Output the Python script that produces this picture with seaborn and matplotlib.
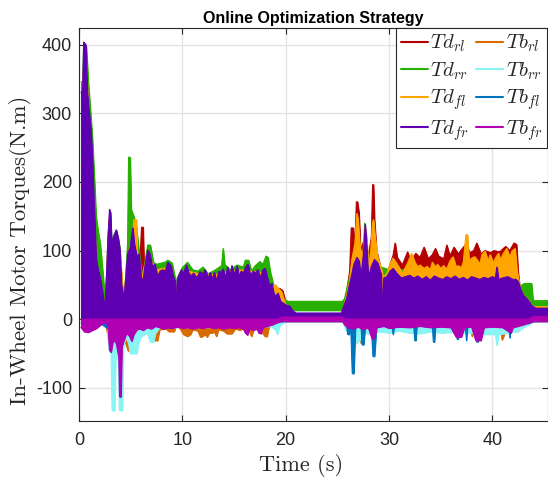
import numpy as np
import pandas as pd
import matplotlib
matplotlib.use("Agg")
import matplotlib.pyplot as plt
from matplotlib.lines import Line2D
import seaborn as sns

# ---------------- data (time [s], envelope values [N.m]) ----------------
# drive torques: (t, upper) ; lower = 0 unless a third value is given
Td_rl = [(0.3, 300), (0.45, 370), (0.7, 360), (1.0, 270), (1.4, 150), (1.7, 70), (2.3, 28), (2.5, 10),
         (2.9, 135), (3.1, 90), (3.6, 110), (4.0, 85), (4.3, 25), (4.8, 95), (5.2, 110), (5.6, 80),
         (5.95, 100), (6.05, 134), (6.2, 134), (6.3, 70), (6.8, 85), (7.4, 70), (7.5, 76), (7.65, 76),
         (7.8, 62), (8.5, 70), (9.3, 45), (9.4, 5), (9.5, 50), (10.5, 65), (12.0, 60), (13.5, 60),
         (15.0, 65), (16.5, 65), (17.5, 60), (18.0, 60), (18.5, 45), (19.2, 40), (19.4, 45), (19.7, 42),
         (20.0, 25), (20.5, 12), (21.0, 7), (25.4, 7), (25.6, 15), (25.9, 40), (26.2, 70), (26.35, 133),
         (26.55, 133), (26.7, 100), (26.85, 171), (26.95, 171), (27.1, 155), (27.25, 100), (27.7, 120),
         (28.0, 90), (28.3, 120), (28.42, 196), (28.5, 196), (28.6, 145), (28.8, 100), (29.2, 75),
         (29.5, 62), (30.0, 75), (30.4, 93), (30.6, 111), (30.8, 90), (31.3, 79), (31.8, 98), (32.1, 85),
         (32.6, 96), (33.0, 90), (33.4, 105), (33.8, 88), (34.2, 94), (34.5, 103), (34.8, 92), (35.3, 88),
         (35.6, 108), (35.9, 92), (36.3, 105), (36.7, 95), (37.1, 103), (37.5, 110), (37.8, 97),
         (38.2, 100), (38.5, 111), (38.9, 95), (39.3, 100), (39.8, 97), (40.2, 100), (40.7, 98),
         (41.3, 106), (41.7, 100), (42.1, 111), (42.35, 109), (42.5, 70), (42.65, 48), (42.9, 40),
         (43.3, 30), (43.8, 18), (45.4, 15)]

Td_rr = [(0.2, 346, 0), (0.35, 346, 0), (0.45, 400, 0), (0.7, 398, 0), (0.9, 345, 0), (1.1, 305, 0),
         (1.3, 262, 0), (1.5, 200, 0), (1.65, 150, 0), (1.85, 128, 0), (2.05, 110, 0), (2.2, 86, 0),
         (2.4, 50, 0), (2.6, 32, 0), (2.8, 120, 0), (3.0, 158, 0), (3.15, 115, 0), (3.6, 130, 0),
         (3.95, 105, 0), (4.1, 55, 0), (4.35, 35, 0), (4.5, 60, 0), (4.7, 110, 0), (4.8, 236, 0),
         (4.95, 236, 0), (5.05, 160, 0), (5.3, 150, 0), (5.5, 140, 0), (5.8, 100, 0), (6.1, 62, 0),
         (6.4, 85, 0), (6.65, 108, 0), (6.9, 108, 0), (7.2, 83, 0), (7.5, 80, 0), (8.3, 83, 0),
         (8.6, 86, 0), (9.0, 82, 0), (9.3, 60, 0), (9.4, 10, 0), (9.5, 60, 0), (10.0, 75, 0),
         (10.5, 83, 0), (11.0, 72, 0), (11.5, 70, 0), (12.0, 76, 0), (12.5, 66, 0), (13.2, 72, 0),
         (13.8, 78, 0), (13.95, 103, 0), (14.1, 80, 0), (14.6, 72, 0), (15.3, 79, 0), (15.9, 76, 0),
         (16.1, 86, 0), (16.4, 86, 0), (16.7, 70, 0), (17.0, 77, 0), (17.5, 84, 0), (17.8, 80, 0),
         (18.1, 92, 0), (18.3, 90, 0), (18.5, 70, 0), (18.9, 45, 0), (19.3, 42, 0), (19.8, 30, 0),
         (20.2, 26, 13), (25.5, 26, 13), (25.7, 30, 0), (26.4, 75, 0), (27.0, 90, 0), (27.5, 95, 0),
         (27.65, 140, 0), (27.85, 100, 0), (28.5, 80, 0), (30.0, 72, 0), (35.0, 72, 0), (40.0, 72, 0),
         (42.4, 62, 0), (42.7, 48, 0), (43.1, 52, 0), (43.8, 52, 0), (43.95, 27, 20), (45.4, 27, 20)]

Td_fl = [(0.3, 310), (0.45, 375), (0.7, 370), (1.0, 280), (1.4, 160), (1.7, 75), (2.3, 30), (2.5, 12),
         (2.9, 145), (3.1, 95), (3.6, 115), (4.0, 90), (4.3, 28), (4.8, 100), (5.2, 120), (5.3, 145),
         (5.55, 145), (5.65, 90), (6.0, 55), (6.6, 95), (7.5, 72), (8.5, 75), (9.3, 50), (9.4, 5),
         (9.5, 52), (10.5, 70), (12.0, 65), (13.5, 65), (14.5, 70), (16.0, 72), (17.5, 68), (18.0, 66),
         (18.5, 45), (19.0, 50), (19.3, 45), (19.6, 40), (20.0, 20), (20.5, 15), (21.0, 8), (25.4, 8),
         (25.6, 16), (25.9, 35), (26.2, 57), (26.4, 86), (26.7, 110), (26.9, 154), (27.0, 145),
         (27.2, 105), (27.45, 90), (27.7, 134), (27.85, 120), (28.0, 82), (28.2, 90), (28.4, 140),
         (28.5, 145), (28.65, 120), (28.9, 91), (29.3, 72), (29.45, 60), (29.8, 67), (30.1, 80),
         (30.4, 89), (30.8, 80), (31.3, 67), (31.75, 80), (32.2, 96), (32.5, 83), (32.8, 76), (33.0, 79),
         (33.4, 74), (33.7, 77), (34.0, 72), (34.2, 83), (34.5, 76), (34.7, 80), (35.0, 74), (35.3, 78),
         (35.6, 73), (35.9, 85), (36.2, 91), (36.5, 76), (36.7, 78), (37.0, 75), (37.2, 83), (37.45, 123),
         (37.6, 123), (37.75, 85), (38.0, 89), (38.3, 91), (38.6, 85), (38.8, 80), (39.0, 94), (39.3, 99),
         (39.6, 85), (39.8, 94), (40.1, 82), (40.3, 89), (40.6, 96), (40.8, 86), (41.0, 94), (41.4, 103),
         (41.7, 90), (41.9, 99), (42.2, 103), (42.4, 70), (42.7, 45), (43.0, 35), (43.5, 28), (44.0, 18),
         (45.4, 18)]

Td_fr = [(0.2, 330), (0.35, 335), (0.45, 404), (0.65, 400), (0.8, 330), (0.95, 305), (1.15, 275),
         (1.3, 230), (1.4, 185), (1.55, 130), (1.65, 90), (1.8, 75), (2.05, 60), (2.3, 36), (2.5, 15),
         (2.65, 60), (2.8, 118), (2.95, 160), (3.05, 155), (3.15, 110), (3.35, 120), (3.6, 130),
         (3.8, 118), (3.95, 100), (4.1, 50), (4.35, 30), (4.5, 55), (4.7, 95), (4.95, 105), (5.2, 133),
         (5.35, 110), (5.6, 91), (5.8, 95), (6.0, 60), (6.2, 57), (6.4, 80), (6.65, 101), (6.85, 95),
         (7.1, 76), (7.35, 80), (7.6, 62), (7.85, 70), (8.1, 72), (8.35, 70), (8.6, 83), (8.9, 78),
         (9.1, 62), (9.3, 55), (9.4, 10), (9.5, 57), (9.7, 65), (9.9, 72), (10.1, 66), (10.4, 79),
         (10.6, 68), (10.8, 63), (11.1, 67), (11.4, 60), (11.7, 69), (12.0, 66), (12.2, 72), (12.5, 60),
         (12.7, 68), (12.9, 58), (13.1, 68), (13.3, 55), (13.55, 70), (13.75, 68), (13.95, 73),
         (14.15, 60), (14.4, 76), (14.6, 62), (14.8, 78), (15.0, 65), (15.3, 77), (15.5, 62), (15.7, 70),
         (15.9, 67), (16.1, 75), (16.35, 80), (16.6, 63), (16.85, 70), (17.05, 67), (17.3, 72),
         (17.55, 60), (17.8, 72), (18.0, 74), (18.2, 62), (18.45, 48), (18.65, 52), (18.85, 38),
         (19.05, 33), (19.25, 38), (19.5, 26), (19.8, 23), (20.1, 20), (20.4, 19), (20.7, 12), (21.0, 9),
         (25.4, 9), (25.6, 18), (25.9, 30), (26.1, 45), (26.4, 65), (26.6, 80), (26.9, 90), (27.1, 85),
         (27.3, 62), (27.55, 98), (27.7, 138), (27.85, 103), (28.0, 60), (28.3, 77), (28.6, 87),
         (28.9, 82), (29.25, 65), (29.35, 8), (29.5, 60), (29.8, 62), (30.1, 70), (30.4, 74), (30.8, 66),
         (31.2, 60), (31.6, 62), (32.0, 64), (32.4, 60), (32.8, 63), (33.2, 58), (33.6, 62), (34.0, 57),
         (34.4, 63), (34.8, 60), (35.2, 58), (35.6, 62), (36.0, 59), (36.4, 63), (36.8, 58), (37.2, 61),
         (37.6, 57), (38.0, 62), (38.4, 60), (38.8, 58), (39.2, 61), (39.6, 59), (40.0, 62), (40.3, 60),
         (40.45, 76), (40.6, 58), (41.0, 60), (41.5, 62), (42.0, 58), (42.3, 58), (42.5, 55), (42.7, 45),
         (43.0, 35), (43.4, 29), (43.9, 19), (44.2, 16), (45.4, 16)]

# braking torques: (t, lower) ; upper = 0 unless a third value is given
Tb_rl = [(0.2, -12), (1.0, -15), (2.0, -8), (2.5, -4), (2.9, -30), (3.2, -20), (3.7, -25), (4.2, -20),
         (4.75, -46), (5.1, -46), (5.3, -20), (6.0, -15), (6.6, -15), (7.1, -18), (7.3, -31), (7.6, -31),
         (7.8, -15), (8.4, -14), (8.7, -18), (9.2, -18), (9.4, -10), (9.8, -14), (10.1, -22), (10.5, -25),
         (10.8, -22), (11.0, -15), (11.5, -17), (11.75, -26), (11.95, -25), (12.2, -22), (12.4, -26),
         (12.6, -20), (12.9, -20), (13.1, -18), (13.3, -25), (13.5, -15), (14.0, -17), (14.3, -21),
         (14.8, -21), (15.1, -14), (15.6, -16), (15.9, -13), (16.5, -18), (16.7, -25), (16.9, -15),
         (17.5, -15), (18.0, -25), (18.2, -25), (18.4, -10), (19.0, -6), (19.5, -3), (25.5, -3),
         (25.8, -8), (26.4, -10), (27.1, -12), (27.3, -35), (27.5, -35), (27.7, -10), (30.0, -10),
         (37.9, -10), (38.05, -25), (38.2, -10), (40.8, -10), (40.95, -30), (41.1, -25), (41.3, -10),
         (43.0, -8), (44.0, -3), (45.4, -3)]

Tb_rr = [(0.2, -8), (1.0, -12), (2.0, -6), (2.7, -5), (2.9, -45), (3.1, -50), (3.2, -133), (3.45, -133),
         (3.55, -55), (3.8, -60), (3.9, -133), (4.2, -133), (4.3, -40), (4.5, -25), (4.8, -35),
         (4.95, -50), (5.6, -50), (5.75, -35), (6.0, -25), (6.6, -20), (6.9, -33), (7.2, -33), (7.4, -20),
         (7.8, -12), (9.0, -12), (12.0, -12), (15.0, -10), (17.0, -12), (18.5, -10), (19.0, -15),
         (19.2, -22), (19.4, -10), (20.0, -3), (25.5, -3), (25.8, -15), (26.5, -25), (26.9, -35),
         (27.2, -30), (27.6, -20), (28.2, -22), (29.0, -18), (30.0, -20), (31.0, -17), (32.0, -20),
         (33.0, -21), (34.0, -18), (35.0, -20), (36.0, -19), (37.0, -21), (38.0, -20), (39.0, -22),
         (40.3, -22), (40.45, -38), (40.6, -22), (41.5, -20), (42.5, -18), (43.0, -12), (43.5, -8),
         (44.0, -3), (45.4, -3)]

Tb_fl = [(0.2, -5), (2.0, -5), (2.9, -15), (3.5, -20), (4.2, -15), (5.0, -20), (6.0, -10), (8.0, -10),
         (8.9, -13), (9.1, -11), (12.0, -10), (16.0, -10), (17.0, -9), (19.0, -6), (19.5, -3), (25.5, -3),
         (25.9, -8), (26.0, -22), (26.15, -22), (26.3, -10), (26.45, -79), (26.6, -79), (26.75, -12),
         (27.3, -10), (27.4, -37), (27.55, -37), (27.7, -10), (28.3, -10), (28.45, -54), (28.6, -54),
         (28.8, -10), (30.3, -10), (30.4, -22), (30.5, -10), (32.4, -8), (32.5, -31), (32.6, -31),
         (32.7, -8), (34.2, -8), (34.3, -33), (34.4, -33), (34.5, -8), (36.5, -8), (36.6, -29),
         (36.7, -29), (36.8, -8), (37.4, -8), (37.5, -31), (37.6, -8), (38.4, -8), (38.5, -33),
         (38.6, -33), (38.7, -8), (41.6, -8), (41.7, -27), (41.8, -8), (43.5, -6), (44.0, -3), (45.4, -3)]

Tb_fr = [(0.2, -12, 0), (0.5, -18, 0), (0.9, -19, 0), (1.3, -16, 0), (1.7, -13, 0), (2.1, -8, 0),
         (2.4, -5, 0), (2.6, -5, 0), (2.8, -10, 0), (2.95, -45, 0), (3.1, -48, 0), (3.3, -30, 0),
         (3.6, -35, 0), (3.85, -55, 0), (3.92, -113, 0), (4.05, -113, 0), (4.15, -40, 0), (4.3, -32, 0),
         (4.6, -20, 0), (4.9, -25, 0), (5.1, -32, 0), (5.3, -22, 0), (5.6, -15, 0), (5.9, -14, 0),
         (6.2, -16, 0), (6.6, -12, 0), (7.0, -14, 0), (7.4, -10, 0), (7.8, -12, 0), (8.2, -14, 0),
         (8.6, -12, 0), (9.0, -13, 0), (9.5, -11, 0), (10.0, -13, 0), (10.5, -12, 0), (11.0, -14, 0),
         (11.5, -12, 0), (12.0, -13, 0), (12.5, -11, 0), (13.0, -13, 0), (13.5, -12, 0), (14.0, -14, 0),
         (14.5, -12, 0), (15.0, -13, 0), (15.5, -12, 0), (15.9, -14, 0), (16.1, -20, 0), (16.3, -23, 0),
         (16.5, -14, 0), (16.9, -16, 0), (17.2, -13, 0), (17.4, -20, 0), (17.6, -21, 0), (17.8, -12, 0),
         (18.2, -10, 0), (18.7, -8, 0), (19.2, -4, 0), (19.7, -3, 3), (25.5, -3, 3), (25.7, -8, 0),
         (26.0, -12, 0), (26.5, -14, 0), (27.0, -11, 0), (27.5, -15, 0), (28.0, -12, 0), (28.35, -28, 0),
         (28.6, -28, 0), (28.8, -12, 0), (29.5, -10, 0), (30.0, -13, 0), (31.0, -11, 0), (32.0, -12, 0),
         (33.0, -10, 0), (34.0, -12, 0), (35.0, -11, 0), (36.0, -12, 0), (36.5, -26, 0), (37.0, -26, 0),
         (37.3, -12, 0), (38.0, -11, 0), (38.4, -31, 0), (38.9, -31, 0), (39.2, -12, 0), (40.0, -11, 0),
         (41.0, -12, 0), (41.8, -20, 0), (42.0, -12, 0), (42.5, -10, 0), (43.0, -8, 0), (43.5, -5, 0),
         (44.0, -3, 4), (45.4, -3, 4)]

labels = {"Td_rl": r"$Td_{rl}$", "Tb_rl": r"$Tb_{rl}$", "Td_rr": r"$Td_{rr}$", "Tb_rr": r"$Tb_{rr}$",
          "Td_fl": r"$Td_{fl}$", "Tb_fl": r"$Tb_{fl}$", "Td_fr": r"$Td_{fr}$", "Tb_fr": r"$Tb_{fr}$"}
colors = {"Td_rl": "#B40000", "Tb_rl": "#D86A00", "Td_rr": "#27B000", "Tb_rr": "#8AF4F4",
          "Td_fl": "#FFA500", "Tb_fl": "#0075BE", "Td_fr": "#5E00B2", "Tb_fr": "#B000B4"}
xticks = [0, 10, 20, 30, 40]
yticks = [-100, 0, 100, 200, 300, 400]

# ---------------- build frames ----------------
def frame(pts, drive):
    rows = []
    for p in pts:
        if drive:
            hi = p[1]; lo = p[2] if len(p) > 2 else 0.0
        else:
            lo = p[1]; hi = p[2] if len(p) > 2 else 0.0
        rows.append((p[0], lo, hi))
    return pd.DataFrame(rows, columns=["t", "lo", "hi"])

order = [("Td_rl", Td_rl, True), ("Tb_rl", Tb_rl, False), ("Td_rr", Td_rr, True), ("Tb_rr", Tb_rr, False),
         ("Td_fl", Td_fl, True), ("Tb_fl", Tb_fl, False), ("Td_fr", Td_fr, True), ("Tb_fr", Tb_fr, False)]

sns.set_theme(style="white")
plt.rcParams['font.family'] = ['Liberation Sans', 'DejaVu Sans']
plt.rcParams['mathtext.fontset'] = 'cm'

fig = plt.figure(figsize=(5.48, 4.78), dpi=100)
ax = fig.add_axes([79 / 548, 1 - 420.7 / 478, (548 - 79) / 548, (420.7 - 28.3) / 478])

for name, pts, drive in order:
    df = frame(pts, drive)
    c = colors[name]
    ax.fill_between(df["t"], df["lo"], df["hi"], color=c, linewidth=0.8, edgecolor=c, zorder=2)
    sns.lineplot(data=df, x="t", y="hi", ax=ax, color=c, lw=0.8, estimator=None, sort=False, zorder=2)
    sns.lineplot(data=df, x="t", y="lo", ax=ax, color=c, lw=0.8, estimator=None, sort=False, zorder=2)

ax.set_xlim(0, 45.4)
ax.set_ylim(-148, 424)
ax.set_xticks(xticks)
ax.set_xticklabels([str(v) for v in xticks])
ax.set_yticks(yticks)
ax.set_yticklabels([str(v) for v in yticks])
ax.grid(True, color="#E3E3E3", lw=1.0, zorder=0)
ax.set_axisbelow(True)
ax.tick_params(direction="in", length=4, width=0.8, colors="#262626", labelsize=13,
               top=True, right=True, bottom=True, left=True)
ax.tick_params(axis="x", pad=8)
ax.tick_params(axis="y", pad=5)
for s in ax.spines.values():
    s.set_color("#262626")
    s.set_linewidth(0.8)
    s.set_zorder(5)

ax.set_xlabel("Time (s)", fontfamily="cmr10", fontsize=16, color="#262626")
ax.set_ylabel("In-Wheel Motor Torques(N.m)", fontfamily="cmr10", fontsize=16.5, color="#262626")
ax.xaxis.set_label_coords(0.473, -0.085)
ax.yaxis.set_label_coords(-0.100, 0.433)
ax.set_title("Online Optimization Strategy", fontweight="bold", fontsize=11.5, color="black", pad=4)

hnames = ["Td_rl", "Td_rr", "Td_fl", "Td_fr", "Tb_rl", "Tb_rr", "Tb_fl", "Tb_fr"]
handles = [Line2D([0], [0], color=colors[n], lw=1.5) for n in hnames]
leg = ax.legend(handles, [labels[n] for n in hnames], ncol=2, loc="upper right",
                bbox_to_anchor=(0.997, 1.0), fontsize=15, frameon=True, fancybox=False,
                edgecolor="#262626", framealpha=1, handlelength=1.3, handletextpad=0.12,
                columnspacing=0.35, labelspacing=0.28, borderpad=0.22, borderaxespad=0.0)
leg.get_frame().set_linewidth(0.8)
leg.set_zorder(10)

fig.savefig("out.png", dpi=100)
